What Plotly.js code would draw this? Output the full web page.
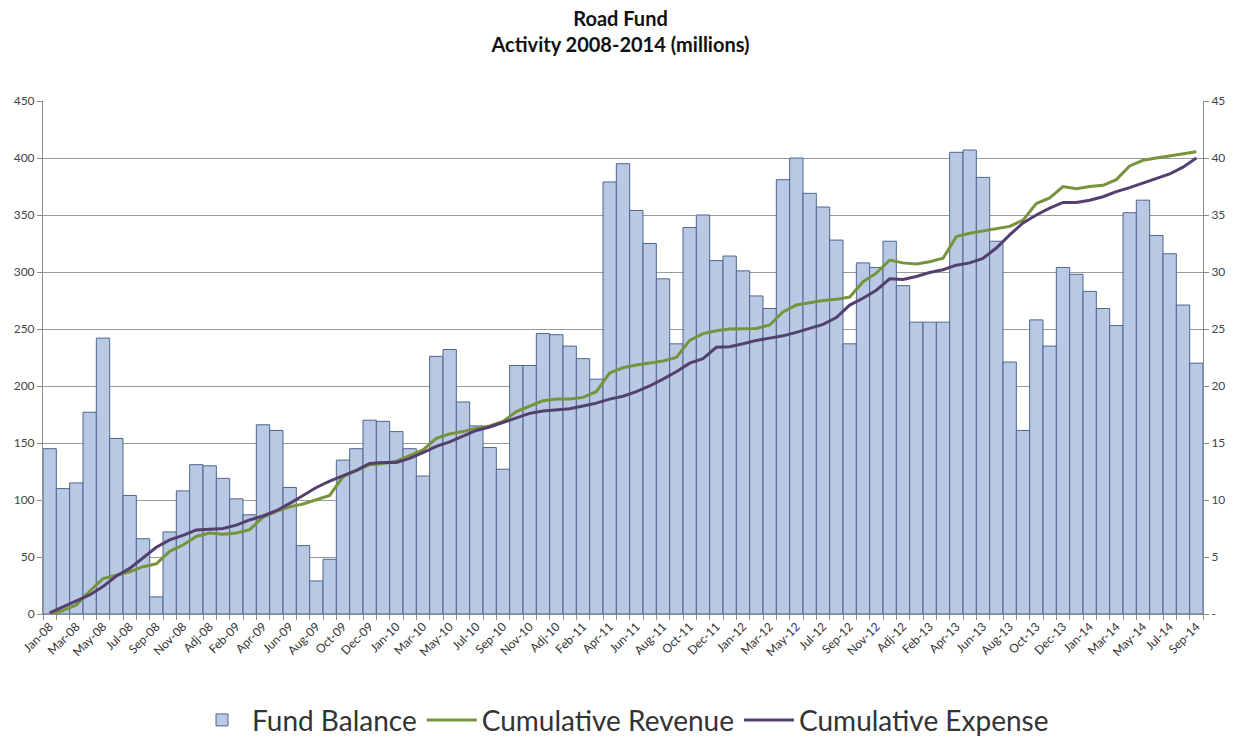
<!DOCTYPE html>
<html>
<head>
<meta charset="utf-8">
<script src="https://cdn.plot.ly/plotly-3.0.1.min.js"></script>
<style>html,body{margin:0;padding:0;background:#fff;}#chart{width:1241px;height:744px;}</style>
</head>
<body>
<div id="chart"></div>
<script>
// Categories: monthly periods with a year-end "Adj" period (2008-2013), Jan-08 .. Sep-14
const categories = [
  "Jan-08","Feb-08","Mar-08","Apr-08","May-08","Jun-08","Jul-08","Aug-08","Sep-08","Oct-08","Nov-08","Dec-08","Adj-08",
  "Jan-09","Feb-09","Mar-09","Apr-09","May-09","Jun-09","Jul-09","Aug-09","Sep-09","Oct-09","Nov-09","Dec-09","Adj-09",
  "Jan-10","Feb-10","Mar-10","Apr-10","May-10","Jun-10","Jul-10","Aug-10","Sep-10","Oct-10","Nov-10","Dec-10","Adj-10",
  "Jan-11","Feb-11","Mar-11","Apr-11","May-11","Jun-11","Jul-11","Aug-11","Sep-11","Oct-11","Nov-11","Dec-11","Adj-11",
  "Jan-12","Feb-12","Mar-12","Apr-12","May-12","Jun-12","Jul-12","Aug-12","Sep-12","Oct-12","Nov-12","Dec-12","Adj-12",
  "Jan-13","Feb-13","Mar-13","Apr-13","May-13","Jun-13","Jul-13","Aug-13","Sep-13","Oct-13","Nov-13","Dec-13","Adj-13",
  "Jan-14","Feb-14","Mar-14","Apr-14","May-14","Jun-14","Jul-14","Aug-14","Sep-14"
];

// Fund Balance (left axis)
const fundBalance = [
  145,110,115,177,242,154,104,66,15,72,108,131,130,
  119,101,87,166,161,111,60,29,48,135,145,170,169,
  160,145,121,226,232,186,165,146,127,218,218,246,245,
  235,224,206,379,395,354,325,294,237,339,350,310,314,
  301,279,268,381,400,369,357,328,237,308,304,327,288,
  256,256,256,405,407,383,327,221,161,258,235,304,298,
  283,268,253,352,363,332,316,271,220
];

// Cumulative Revenue (right axis)
const cumRevenue = [
  0.0,0.3,0.8,2.0,3.1,3.4,3.7,4.15,4.4,5.5,6.05,6.8,7.1,
  7.0,7.1,7.4,8.5,9.0,9.4,9.65,10.0,10.4,12.05,12.6,13.1,13.2,
  13.4,13.9,14.4,15.4,15.8,16.0,16.3,16.5,16.9,17.75,18.25,18.7,18.85,
  18.85,19.0,19.5,21.15,21.6,21.85,22.0,22.2,22.5,24.0,24.6,24.85,25.0,
  25.0,25.05,25.35,26.5,27.1,27.3,27.5,27.6,27.8,29.15,29.9,31.05,30.8,
  30.7,30.9,31.2,33.1,33.4,33.6,33.8,34.0,34.55,36.0,36.5,37.5,37.3,
  37.5,37.6,38.1,39.3,39.8,40.0,40.2,40.35,40.55
];

// Cumulative Expense (right axis)
const cumExpense = [
  0.1,0.64,1.14,1.67,2.4,3.33,4.0,4.9,5.85,6.5,6.9,7.37,7.43,
  7.5,7.8,8.25,8.6,9.06,9.7,10.4,11.1,11.65,12.1,12.6,13.2,13.3,
  13.3,13.65,14.15,14.7,15.1,15.6,16.1,16.4,16.8,17.25,17.6,17.8,17.9,
  18.0,18.25,18.5,18.85,19.1,19.5,20.0,20.6,21.25,22.0,22.4,23.4,23.45,
  23.7,24.0,24.2,24.4,24.7,25.05,25.4,26.0,27.1,27.7,28.4,29.4,29.35,
  29.6,29.95,30.2,30.6,30.8,31.2,32.1,33.25,34.3,35.0,35.6,36.1,36.1,
  36.3,36.6,37.05,37.4,37.8,38.2,38.6,39.2,40.0
];

const leftTicks = [0,50,100,150,200,250,300,350,400,450];
const rightTicks = [0,5,10,15,20,25,30,35,40,45];
const rightTickText = ["-","5","10","15","20","25","30","35","40","45"];

const xTickText = categories.map((c, i) => (i % 2 === 0 ? c : ""));

const FONT = "Lato, 'Open Sans', sans-serif";

const traces = [
  {
    type: "bar",
    name: "Fund Balance",
    x: categories,
    y: fundBalance,
    marker: { color: "#b9c9e4", line: { color: "#4d6591", width: 1 } },
    yaxis: "y"
  },
  {
    type: "scatter",
    mode: "lines",
    name: "Cumulative Revenue",
    x: categories,
    y: cumRevenue,
    line: { color: "#77933c", width: 3 },
    yaxis: "y2"
  },
  {
    type: "scatter",
    mode: "lines",
    name: "Cumulative Expense",
    x: categories,
    y: cumExpense,
    line: { color: "#54406f", width: 3 },
    yaxis: "y2"
  }
];

const layout = {
  width: 1241,
  height: 744,
  paper_bgcolor: "#ffffff",
  plot_bgcolor: "#ffffff",
  font: { family: FONT, color: "#333333" },
  margin: { l: 43, r: 38, t: 101, b: 130, pad: 0, autoexpand: false },
  title: {
    text: "Road Fund<br>Activity 2008-2014 (millions)",
    font: { family: FONT, size: 20, color: "#111111", weight: 700 },
    x: 0.5, xanchor: "center",
    y: 0.965, yanchor: "top"
  },
  bargap: 0.0,
  showlegend: true,
  legend: {
    orientation: "h",
    x: 0.5, xanchor: "center",
    y: -0.207, yanchor: "middle",
    font: { family: FONT, size: 28, color: "#333333" },
    traceorder: "normal",
    itemwidth: 50
  },
  xaxis: {
    type: "category",
    automargin: false,
    tickmode: "array",
    tickvals: categories,
    ticktext: xTickText,
    tickangle: -45,
    tickfont: { family: FONT, size: 12, color: "#333333" },
    ticks: "outside",
    tickson: "boundaries",
    ticklen: 5,
    tickcolor: "#8c8c8c",
    showline: true,
    linecolor: "#8c8c8c",
    linewidth: 1,
    showgrid: false,
    zeroline: false,
    fixedrange: true
  },
  yaxis: {
    automargin: false,
    range: [0, 450],
    tickmode: "array",
    tickvals: leftTicks,
    tickfont: { family: FONT, size: 12, color: "#444444" },
    ticks: "outside",
    ticklen: 5,
    tickcolor: "#8c8c8c",
    showline: true,
    linecolor: "#8c8c8c",
    showgrid: true,
    gridcolor: "#9a9a9a",
    gridwidth: 1,
    zeroline: false,
    fixedrange: true
  },
  yaxis2: {
    automargin: false,
    overlaying: "y",
    side: "right",
    range: [0, 45],
    tickmode: "array",
    tickvals: rightTicks,
    ticktext: rightTickText,
    tickfont: { family: FONT, size: 12, color: "#444444" },
    ticks: "outside",
    ticklen: 5,
    tickcolor: "#8c8c8c",
    showline: true,
    linecolor: "#8c8c8c",
    showgrid: false,
    zeroline: false,
    fixedrange: true
  }
};

Plotly.newPlot("chart", traces, layout, { staticPlot: true, displayModeBar: false });
</script>
</body>
</html>
